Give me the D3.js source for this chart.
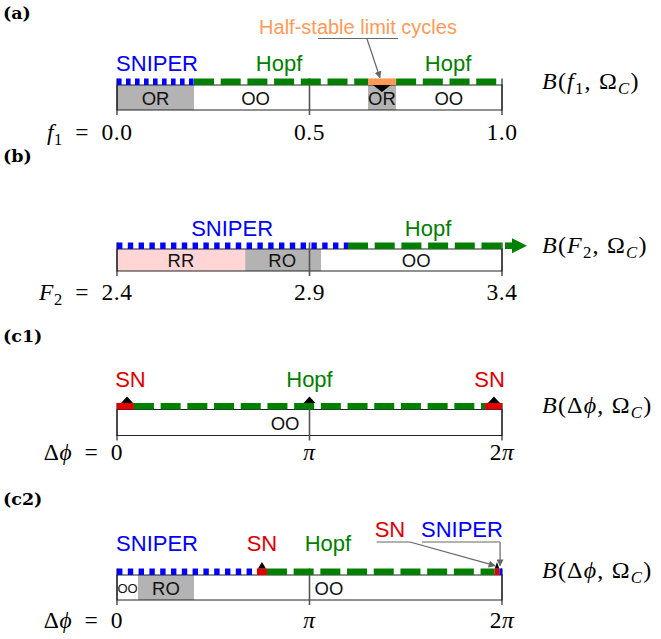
<!DOCTYPE html>
<html>
<head>
<meta charset="utf-8">
<script src="https://cdn.jsdelivr.net/npm/d3@7"></script>
<style>
  body { margin: 0; background: #fff; }
  text { font-family: "Liberation Sans", Arial, sans-serif; }
</style>
</head>
<body>
<div id="chart"></div>
<script>
// ---- data ----
// panel (a): parameter f1
const aTicks = [0, 0.5, 1];
const aTickLabels = [[["0.0", "n"]], [["0.5", "n"]], [["1.0", "n"]]];
const aRegions = ["OR", "OO", "OR", "OO"];
const aRegionBounds = [[0, 0.2], [0.2, 0.652], [0.652, 0.725], [0.725, 1]];
const aRegionLabelAt = [0.1, 0.36, 0.688, 0.862];
const aBifs = ["SNIPER", "Hopf", "Half", "Hopf"];
const aBifBounds = [[0, 0.2], [0.2, 0.652], [0.652, 0.725], [0.725, 1]];
const aBifLabels = ["SNIPER", "Hopf", "Hopf"];
const aBifLabelAt = [0.104, 0.421, 0.86];
const aMarkers = [0.688];

// panel (b): parameter F2
const bTicks = [2.4, 2.9, 3.4];
const bTickLabels = [[["2.4", "n"]], [["2.9", "n"]], [["3.4", "n"]]];
const bRegions = ["RR", "RO", "OO"];
const bRegionBounds = [[2.4, 2.733], [2.733, 2.93], [2.93, 3.4]];
const bRegionLabelAt = [2.566, 2.829, 3.177];
const bBifs = ["SNIPER", "Hopf"];
const bBifBounds = [[2.4, 3.0], [3.0, 3.4]];
const bBifLabels = ["SNIPER", "Hopf"];
const bBifLabelAt = [2.699, 3.208];

// panel (c1): phase difference, in units of pi
const c1Ticks = [0, 1, 2];
const cTickLabels = [[["0", "n"]], [["π", "i"]], [["2", "n"], ["π", "i"]]];
const c1Regions = ["OO"];
const c1RegionBounds = [[0, 2]];
const c1RegionLabelAt = [0.873];
const c1Bifs = ["SN", "Hopf", "SN"];
const c1BifBounds = [[0, 0.088], [0.088, 1.912], [1.912, 2]];
const c1BifLabels = ["SN", "Hopf", "SN"];
const c1BifLabelAt = [0.07, 1.0, 1.935];
const c1Markers = [0.052, 1.0, 1.958];

// panel (c2)
const c2Ticks = [0, 1, 2];
const c2Regions = ["oo", "RO", "OO"];
const c2RegionBounds = [[0, 0.109], [0.109, 0.4], [0.4, 2]];
const c2RegionLabelAt = [0.055, 0.254, 1.101];
const c2Bifs = ["SNIPER", "SN", "Hopf", "SN", "SNIPER"];
const c2BifBounds = [[0, 0.727], [0.727, 0.779], [0.779, 1.961], [1.961, 1.987], [1.987, 2]];
const c2BifLabels = ["SNIPER", "SN", "Hopf"];
const c2BifLabelAt = [0.208, 0.753, 1.096];
const c2Markers = [0.753, 1.974];

// ---- styles ----
const regionFill = { OR: "#b3b3b3", RO: "#b3b3b3", RR: "#ffd5d5", OO: "#ffffff", oo: "#ffffff" };
const bifStyle = {
  SNIPER: { color: "#0000ff", dash: "4.6,4.4" },
  Hopf:   { color: "#008000", dash: "20,6.7" },
  SN:     { color: "#e00000", dash: null },
  Half:   { color: "#ff9955", dash: null }
};
const lineW = 6.6;
const axisLeft = 117, axisRight = 502;
const serif = "'Liberation Serif', 'Times New Roman', serif";
const sp = "\u2002";

const svg = d3.select("#chart").append("svg")
  .attr("width", 661).attr("height", 639);

const defs = svg.append("defs");
defs.append("marker")
  .attr("id", "grayArrow")
  .attr("viewBox", "0 0 10 10").attr("refX", 9).attr("refY", 5)
  .attr("markerWidth", 7).attr("markerHeight", 7)
  .attr("markerUnits", "userSpaceOnUse")
  .attr("orient", "auto")
  .append("path").attr("d", "M0,0 L10,5 L0,10 z").attr("fill", "#666");

// serif "math" text made of tspans: n normal, i italic, s subscript, si italic subscript
function mathText(g, x, y, parts, anchor, size, spacing) {
  const t = g.append("text")
    .attr("x", x).attr("y", y)
    .attr("text-anchor", anchor)
    .style("font-family", serif)
    .style("font-size", size + "px")
    .style("letter-spacing", (spacing || 0) + "px");
  let down = false;
  parts.forEach(([s, st]) => {
    const ts = t.append("tspan").text(s);
    if (st.includes("i")) ts.style("font-style", "italic");
    if (st.includes("s")) {
      ts.style("font-size", (size * 0.7) + "px");
      if (!down) { ts.attr("dy", size * 0.22); down = true; }
    } else if (down) {
      ts.attr("dy", -size * 0.22); down = false;
    }
  });
  return t;
}

function drawPanel(p) {
  const g = svg.append("g").attr("class", "panel");
  const x = d3.scaleLinear().domain(p.domain).range([axisLeft, axisRight]);
  const boxTop = p.boxTop, boxBot = p.boxTop + p.boxH;
  const lineY = boxTop - lineW / 2;

  // panel letter
  g.append("text")
    .attr("x", 3).attr("y", p.letterY)
    .style("font-family", "'DejaVu Serif', serif")
    .style("font-weight", "bold").style("font-size", "17.5px")
    .text(p.letter);

  // regions
  g.selectAll(".region")
    .data(p.regions.map((r, i) => ({ kind: r, b: p.regionBounds[i] })))
    .join("rect")
    .attr("class", "region")
    .attr("x", d => x(d.b[0])).attr("y", boxTop)
    .attr("width", d => x(d.b[1]) - x(d.b[0])).attr("height", p.boxH)
    .attr("fill", d => regionFill[d.kind]);

  g.append("rect")
    .attr("x", axisLeft).attr("y", boxTop)
    .attr("width", axisRight - axisLeft).attr("height", p.boxH)
    .attr("fill", "none").attr("stroke", "#222").attr("stroke-width", 1);

  g.selectAll(".regionLabel")
    .data(p.regions.map((r, i) => ({ kind: r, at: p.regionLabelAt[i] })))
    .join("text")
    .attr("class", "regionLabel")
    .attr("x", d => x(d.at)).attr("y", d => boxTop + p.boxH / 2 + (d.kind === "oo" ? 5 : 7))
    .attr("text-anchor", "middle")
    .style("font-size", d => d.kind === "oo" ? "13px" : "18.5px")
    .attr("fill", "#111")
    .text(d => d.kind === "oo" ? "OO" : d.kind);

  // ticks: ends black, middle gray
  p.ticks.forEach((t, i) => {
    const mid = i > 0 && i < p.ticks.length - 1;
    g.append("line")
      .attr("x1", x(t)).attr("x2", x(t))
      .attr("y1", boxTop - lineW)
      .attr("y2", boxBot + 5)
      .attr("stroke", mid ? "#555" : "#111")
      .attr("stroke-width", mid ? 1.6 : 1.1);
    const lab = mathText(g, x(t), p.tickY, p.tickLabels[i], "middle", 23.5, 0.6);
    if (i === 0) {
      const w = lab.node().getComputedTextLength();
      mathText(g, x(t) - w / 2, p.tickY, p.prefix, "end", 23.5, 0.6);
    }
  });

  // bifurcation segments
  g.selectAll(".bif")
    .data(p.bifs.map((b, i) => ({ kind: b, b: p.bifBounds[i] })))
    .join("line")
    .attr("class", "bif")
    .attr("x1", d => x(d.b[0])).attr("x2", d => x(d.b[1]))
    .attr("y1", lineY).attr("y2", lineY)
    .attr("stroke", d => bifStyle[d.kind].color)
    .attr("stroke-width", lineW)
    .attr("stroke-dasharray", d => (d.kind === "SNIPER" && p.dotDash) ? p.dotDash : bifStyle[d.kind].dash);

  g.selectAll(".bifLabel")
    .data(p.bifLabels.map((b, i) => ({ kind: b, at: p.bifLabelAt[i] })))
    .join("text")
    .attr("class", "bifLabel")
    .attr("x", d => x(d.at)).attr("y", p.bifY)
    .attr("text-anchor", "middle")
    .style("font-size", "22px")
    .attr("fill", d => bifStyle[d.kind].color)
    .text(d => d.kind);

  // right-hand label
  mathText(g, 542, p.rightY, p.right, "start", 24, 1.2);

  return { g, x, lineY, boxTop };
}

// ---- panel (a) ----
const pa = drawPanel({
  letter: "(a)", letterY: 19, boxTop: 85, boxH: 25, bifY: 71, tickY: 140, rightY: 89,
  domain: [0, 1], ticks: aTicks, tickLabels: aTickLabels,
  prefix: [["f", "i"], ["1", "s"], [sp + "=" + sp, "n"]],
  right: [["B", "i"], ["(", "n"], ["f", "i"], ["1", "s"], [",\u00a0Ω", "n"], ["C", "si"], [")", "n"]],
  regions: aRegions, regionBounds: aRegionBounds, regionLabelAt: aRegionLabelAt,
  bifs: aBifs, bifBounds: aBifBounds, bifLabels: aBifLabels, bifLabelAt: aBifLabelAt
});
pa.g.selectAll(".mark").data(aMarkers).join("path")
  .attr("class", "mark")
  .attr("d", d => `M${pa.x(d) - 9},${pa.boxTop} L${pa.x(d) + 9},${pa.boxTop} L${pa.x(d)},${pa.boxTop + 7} z`)
  .attr("fill", "#000");
pa.g.append("text")
  .attr("x", pa.x(0.626)).attr("y", 34).attr("text-anchor", "middle")
  .style("font-size", "20px").attr("fill", "#ff9955")
  .text("Half-stable limit cycles");
pa.g.append("line")
  .attr("x1", pa.x(0.522)).attr("x2", pa.x(0.73)).attr("y1", 38.5).attr("y2", 38.5)
  .attr("stroke", "#666").attr("stroke-width", 1.2);
pa.g.append("line")
  .attr("x1", pa.x(0.649)).attr("y1", 38.5).attr("x2", pa.x(0.683)).attr("y2", pa.lineY - 4)
  .attr("stroke", "#666").attr("stroke-width", 1.2).attr("marker-end", "url(#grayArrow)");

// ---- panel (b) ----
const pb = drawPanel({
  letter: "(b)", letterY: 162, boxTop: 249, boxH: 22, bifY: 236, tickY: 300, rightY: 253,
  domain: [2.4, 3.4], ticks: bTicks, tickLabels: bTickLabels, dotDash: "5.4,5.4",
  prefix: [["F", "i"], ["2", "s"], [sp + "=" + sp, "n"]],
  right: [["B", "i"], ["(", "n"], ["F", "i"], ["2", "s"], [",\u00a0Ω", "n"], ["C", "si"], [")", "n"]],
  regions: bRegions, regionBounds: bRegionBounds, regionLabelAt: bRegionLabelAt,
  bifs: bBifs, bifBounds: bBifBounds, bifLabels: bBifLabels, bifLabelAt: bBifLabelAt
});
// Hopf continues beyond the range
pb.g.append("line")
  .attr("x1", pb.x(3.4) + 3).attr("x2", pb.x(3.4) + 11)
  .attr("y1", pb.lineY).attr("y2", pb.lineY)
  .attr("stroke", bifStyle.Hopf.color).attr("stroke-width", lineW);
pb.g.append("path")
  .attr("d", `M${pb.x(3.4) + 10},${pb.lineY - 7.5} L${pb.x(3.4) + 25},${pb.lineY} L${pb.x(3.4) + 10},${pb.lineY + 7.5} z`)
  .attr("fill", bifStyle.Hopf.color);

// ---- panel (c1) ----
const pc1 = drawPanel({
  letter: "(c1)", letterY: 342, boxTop: 409.5, boxH: 26, bifY: 387, tickY: 460, rightY: 413,
  domain: [0, 2], ticks: c1Ticks, tickLabels: cTickLabels,
  prefix: [["Δ", "n"], ["ϕ", "i"], [sp + "=" + sp, "n"]],
  right: [["B", "i"], ["(Δ", "n"], ["ϕ", "i"], [",\u00a0Ω", "n"], ["C", "si"], [")", "n"]],
  regions: c1Regions, regionBounds: c1RegionBounds, regionLabelAt: c1RegionLabelAt,
  bifs: c1Bifs, bifBounds: c1BifBounds, bifLabels: c1BifLabels, bifLabelAt: c1BifLabelAt
});
pc1.g.selectAll(".mark").data(c1Markers).join("path")
  .attr("class", "mark")
  .attr("d", d => {
    const top = pc1.lineY - lineW / 2;
    return `M${pc1.x(d) - 6},${top} L${pc1.x(d) + 6},${top} L${pc1.x(d)},${top - 6.5} z`;
  })
  .attr("fill", "#000");

// ---- panel (c2) ----
const pc2 = drawPanel({
  letter: "(c2)", letterY: 505, boxTop: 575, boxH: 25, bifY: 551, tickY: 628, rightY: 578,
  domain: [0, 2], ticks: c2Ticks, tickLabels: cTickLabels, dotDash: "5.4,5.4",
  prefix: [["Δ", "n"], ["ϕ", "i"], [sp + "=" + sp, "n"]],
  right: [["B", "i"], ["(Δ", "n"], ["ϕ", "i"], [",\u00a0Ω", "n"], ["C", "si"], [")", "n"]],
  regions: c2Regions, regionBounds: c2RegionBounds, regionLabelAt: c2RegionLabelAt,
  bifs: c2Bifs, bifBounds: c2BifBounds, bifLabels: c2BifLabels, bifLabelAt: c2BifLabelAt
});
const c2MarkW = [8, 4.5];
pc2.g.selectAll(".mark").data(c2Markers).join("path")
  .attr("class", "mark")
  .attr("d", (d, i) => {
    const top = pc2.lineY - lineW / 2, hw = c2MarkW[i] / 2;
    return `M${pc2.x(d) - hw},${top} L${pc2.x(d) + hw},${top} L${pc2.x(d)},${top - 6.5} z`;
  })
  .attr("fill", "#000");

// callouts for the narrow SN and SNIPER segments near 2π
const callouts = [
  { kind: "SN", textAt: 1.418, lineFrom: 1.349, lineTo: 1.522, target: 1.974, tx: -2 },
  { kind: "SNIPER", textAt: 1.792, lineFrom: 1.584, lineTo: 1.99, target: 1.99, tx: 0 }
];
callouts.forEach(c => {
  pc2.g.append("text")
    .attr("x", pc2.x(c.textAt)).attr("y", 537).attr("text-anchor", "middle")
    .style("font-size", "22px").attr("fill", bifStyle[c.kind].color)
    .text(c.kind);
  pc2.g.append("line")
    .attr("x1", pc2.x(c.lineFrom)).attr("x2", pc2.x(c.lineTo))
    .attr("y1", 542).attr("y2", 542)
    .attr("stroke", "#666").attr("stroke-width", 1.2);
  pc2.g.append("line")
    .attr("x1", pc2.x(c.lineTo)).attr("y1", 542)
    .attr("x2", pc2.x(c.target) + c.tx).attr("y2", pc2.lineY - 6)
    .attr("stroke", "#666").attr("stroke-width", 1.2)
    .attr("marker-end", "url(#grayArrow)");
});
</script>
</body>
</html>
